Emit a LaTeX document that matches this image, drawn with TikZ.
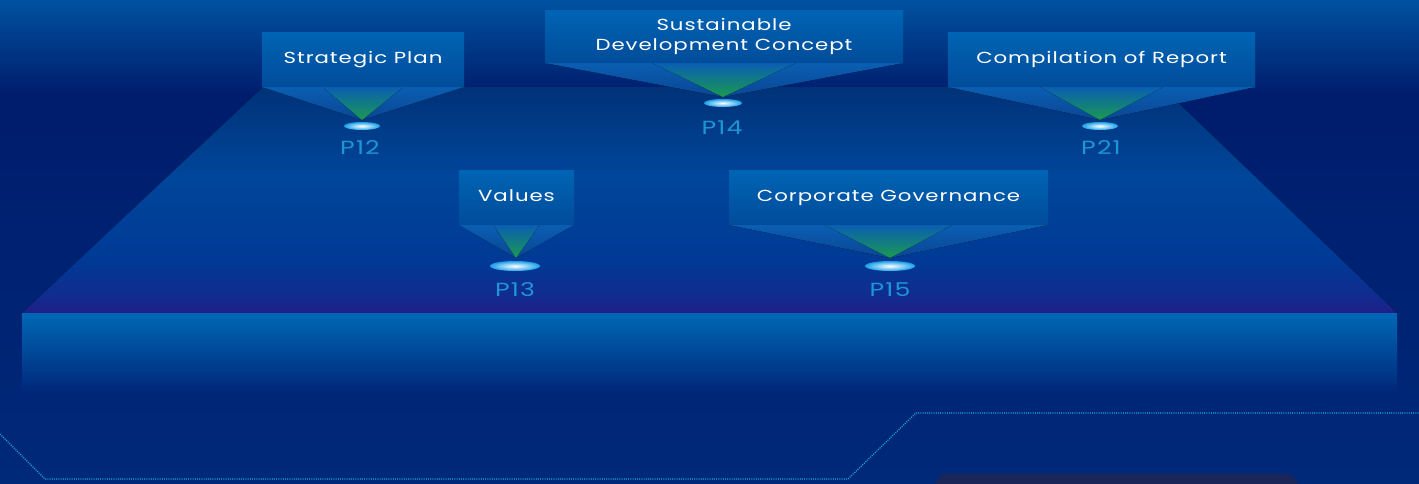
\documentclass[tikz,border=0pt]{standalone}
\usepackage{fontspec}
\setmainfont{Poppins}[FakeStretch=1.33,LetterSpace=6]
\usetikzlibrary{calc,shapes.geometric}
\definecolor{bgtop}{HTML}{0052A0}
\definecolor{bgmid}{HTML}{001C6C}
\definecolor{bgbot}{HTML}{00297A}
\definecolor{trtop}{HTML}{003278}
\definecolor{trmid}{HTML}{00469A}
\definecolor{trlow}{HTML}{003A96}
\definecolor{trbot}{HTML}{201E88}
\definecolor{slabtop}{HTML}{0068B6}
\definecolor{boxtop}{HTML}{0064B4}
\definecolor{boxbot}{HTML}{004C9A}
\definecolor{beamtop}{HTML}{0A5EB2}
\definecolor{beambot}{HTML}{0A4694}
\definecolor{beamgreen}{HTML}{1A9A50}
\definecolor{plabel}{HTML}{1E96D4}
\definecolor{dotc}{HTML}{1AA8E0}
\definecolor{darkshape}{HTML}{1B2658}
\definecolor{lens}{HTML}{1AA0E8}
\pgfdeclareverticalshading{floorshade}{100bp}{color(0bp)=(trbot); color(25bp)=(trbot); color(29bp)=(trbot!50!trlow); color(37bp)=(trlow); color(55bp)=(trmid); color(75bp)=(trtop); color(100bp)=(trtop)}
\tikzset{
  topicbox/.style={draw=none,top color=boxtop,bottom color=boxbot,text=white,
    font=\fontsize{16}{21}\selectfont,align=center,inner sep=0pt,outer sep=0pt},
  outerbeam/.style={top color=beamtop,bottom color=beambot},
  innerbeam/.style={top color=beamtop,middle color=beamtop!85!beamgreen,bottom color=beamgreen},
  lensshape/.style={ellipse,inner sep=0pt,inner color=white,outer color=lens},
  pagelabel/.style={text=plabel,font=\fontsize{19}{22}\selectfont,inner sep=0pt}
}
\begin{document}
\begin{tikzpicture}[x=1pt,y=-1pt]
\useasboundingbox (0,0) rectangle (1419,483);
% background
\fill[top color=bgtop,bottom color=bgmid] (0,0) rectangle (1419,95);
\fill[top color=bgmid,bottom color=bgbot] (0,95) rectangle (1419,483);
% trapezoid floor
\fill[shading=floorshade] (263,87) -- (1162,87) -- (1397,313) -- (22,313) -- cycle;
% front slab
\fill[top color=slabtop,bottom color=bgbot] (22,313) rectangle (1397,390);
% dotted line
\draw[dotc,line width=1.2pt,dash pattern=on 1pt off 1.2pt] (0,434) -- (45,479) -- (848,479) -- (916,413) -- (1419,413);
% dark shape bottom
\fill[darkshape] (935,484) -- (942,474) -- (1291,474) -- (1298,484) -- cycle;

% boxes
\node[topicbox,minimum width=202pt,minimum height=55pt] (sp) at (363,59.5) {\raisebox{2pt}{Strategic Plan}};
\node[topicbox,minimum width=358pt,minimum height=53pt] (sd) at (724,36.5) {Sustainable\\[-1pt]Development Concept};
\node[topicbox,minimum width=307pt,minimum height=55pt] (cr) at (1101.5,59.5) {\raisebox{2pt}{Compilation of Report}};
\node[topicbox,minimum width=115pt,minimum height=55pt] (va) at (516.5,197.5) {\raisebox{3pt}{Values}};
\node[topicbox,minimum width=319pt,minimum height=55pt] (cg) at (888.5,197.5) {\raisebox{2pt}{Corporate Governance}};

% apex coordinates
\coordinate (spa) at (362,120);
\coordinate (sda) at (723,97);
\coordinate (cra) at (1100,120);
\coordinate (vaa) at (516,258);
\coordinate (cga) at (890,258);

% beams
\foreach \b in {sp,sd,cr,va,cg}{
  \fill[outerbeam] (\b.south west) -- (\b.south east) -- (\b a) -- cycle;
  \fill[innerbeam] ($(\b.south west)!0.3!(\b.south east)$) -- ($(\b.south west)!0.7!(\b.south east)$) -- (\b a) -- cycle;
}

% lenses
\node[lensshape,minimum width=36pt,minimum height=8pt] (spl) at (362,126) {};
\node[lensshape,minimum width=38pt,minimum height=8pt] (sdl) at (723,103) {};
\node[lensshape,minimum width=36pt,minimum height=8pt] (crl) at (1100,126) {};
\node[lensshape,minimum width=50pt,minimum height=10pt] (val) at (515,266) {};
\node[lensshape,minimum width=50pt,minimum height=10pt] (cgl) at (890,266) {};

% page labels
\node[pagelabel] (p12) at (360,148) {P12};
\node[pagelabel] (p14) at (722,128) {P14};
\node[pagelabel] (p21) at (1101,148) {P21};
\node[pagelabel] (p13) at (515,290) {P13};
\node[pagelabel] (p15) at (890,290) {P15};
\end{tikzpicture}
\end{document}
